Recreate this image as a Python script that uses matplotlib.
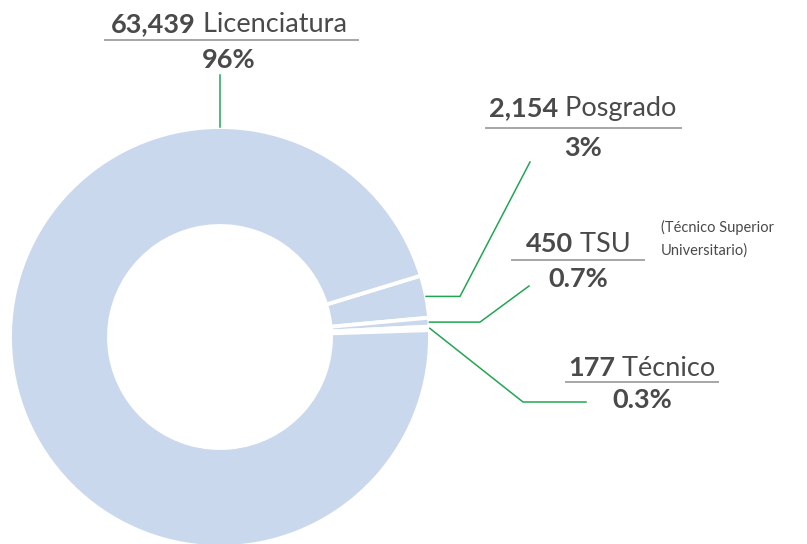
import numpy as np
import matplotlib
matplotlib.use("Agg")
import matplotlib.pyplot as plt

# data
categories = ["Posgrado", "TSU", "Técnico", "Licenciatura"]
counts = [2154, 450, 177, 63439]
count_labels = ["2,154", "450", "177", "63,439"]
pct_labels = ["3%", "0.7%", "0.3%", "96%"]

W, H = 807, 544
fill = "#cad8ee"
green = "#22a553"
txt = "#4a4a4a"
rule = "#a6a6a6"
plt.rcParams['font.family'] = ['Lato', 'DejaVu Sans']

fig = plt.figure(figsize=(W / 100, H / 100), dpi=100)
ax = fig.add_axes([0, 0, 1, 1])

# pixel y (from top) -> data y
def py(y):
    return H - y

cx, cy, R = 220, py(337), 210
start = 17
wedges, _ = ax.pie(counts, center=(cx, cy), radius=R, startangle=start,
                   counterclock=False, colors=[fill] * 4,
                   wedgeprops=dict(width=99, edgecolor="white", linewidth=2.8),
                   frame=True)
ax.set_xlim(0, W)
ax.set_ylim(0, H)
ax.set_aspect("equal")
ax.axis("off")

def anchor(w, ang=None):
    if ang is None:
        ang = (w.theta1 + w.theta2) / 2
    a = np.deg2rad(ang)
    return cx + R * np.cos(a), cy + R * np.sin(a)

# leader lines (elbow points are layout)
a0 = anchor(wedges[0])
ax.plot([a0[0], 460, 530], [a0[1], a0[1], py(162)], color=green, lw=1.1)
a1 = anchor(wedges[1])
ax.plot([a1[0], 480, 529], [a1[1], a1[1], py(286)], color=green, lw=1.1)
a2 = anchor(wedges[2])
ax.plot([a2[0], 523, 586], [a2[1], py(402), py(402)], color=green, lw=1.1)
a3 = anchor(wedges[3], 90)
ax.plot([a3[0], a3[0]], [a3[1], py(75)], color=green, lw=1.1)

fig.canvas.draw()
renderer = fig.canvas.get_renderer()

def label(i, xc, base1, rule_y, x0, x1, base2, fs=19.5):
    b = ax.text(0, py(base1), count_labels[i], fontsize=fs, fontweight="bold",
                color=txt, va="baseline", ha="left")
    r = ax.text(0, py(base1), " " + categories[i], fontsize=fs, color=txt,
                va="baseline", ha="left")
    wb = b.get_window_extent(renderer).width
    wr = r.get_window_extent(renderer).width
    left = xc - (wb + wr) / 2
    b.set_x(left)
    r.set_x(left + wb)
    ax.plot([x0, x1], [py(rule_y), py(rule_y)], color=rule, lw=1.4)
    ax.text(xc, py(base2), pct_labels[i], fontsize=fs, fontweight="bold",
            color=txt, va="baseline", ha="center")

label(3, 229, 32, 40, 105, 358, 68)
label(0, 583, 116, 128, 486, 681, 156)
label(1, 578, 252, 260, 512, 644, 287)
label(2, 642, 376, 382, 566, 718, 408)

ax.text(661, py(232), "(Técnico Superior", fontsize=10.5, color=txt,
        va="baseline", ha="left")
ax.text(661, py(255), "Universitario)", fontsize=10.5, color=txt,
        va="baseline", ha="left")

fig.savefig("out.png", dpi=100)
